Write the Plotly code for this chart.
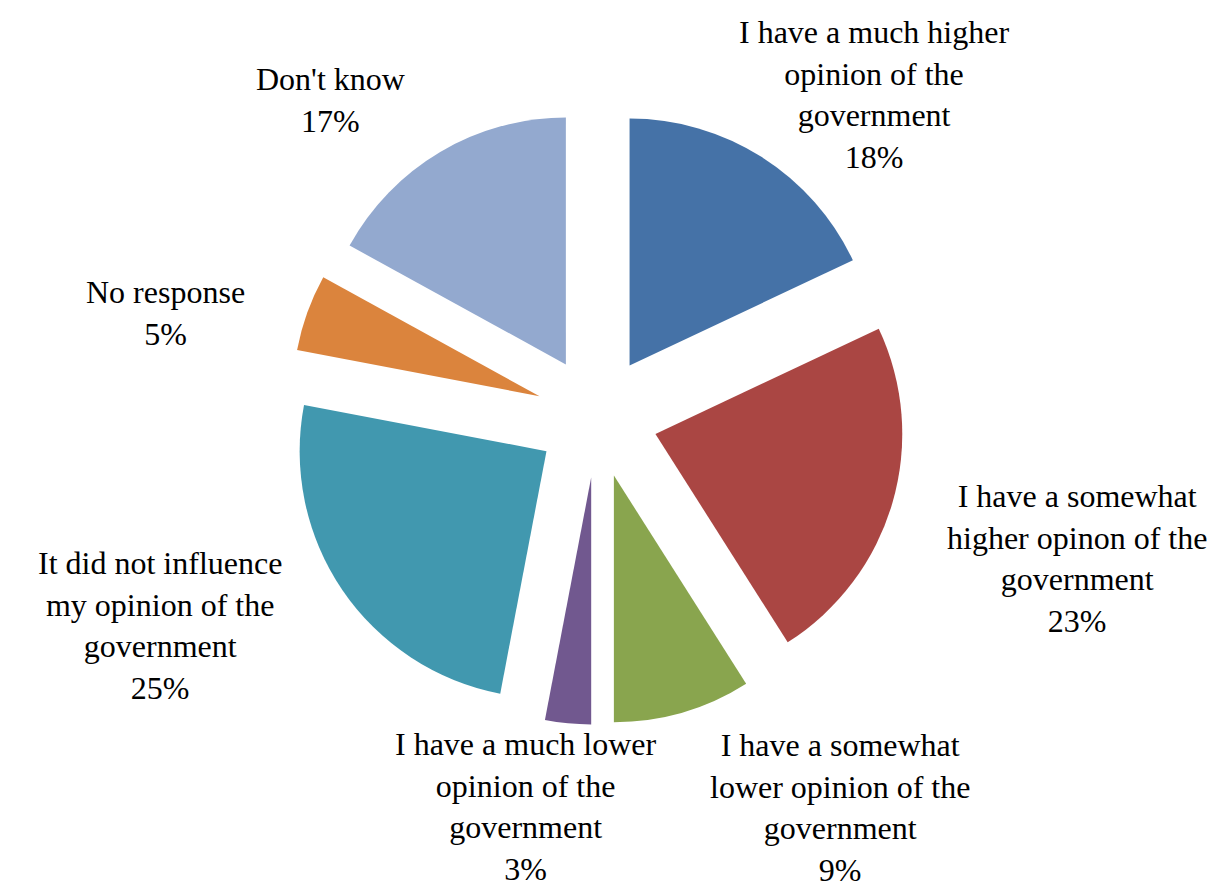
import plotly.graph_objects as go

categories = [
    "I have a much higher<br>opinion of the<br>government",
    "I have a somewhat<br>higher opinon of the<br>government",
    "I have a somewhat<br>lower opinion of the<br>government",
    "I have a much lower<br>opinion of the<br>government",
    "It did not influence<br>my opinion of the<br>government",
    "No response",
    "Don't know",
]
values = [18, 23, 9, 3, 25, 5, 17]
colors = ["#4572A7", "#AA4643", "#89A54E", "#71588F", "#4198AF", "#DB843D", "#93A9CF"]

# label box centres in pixels (layout only)
label_pos = [(866, 86), (1069, 550), (832, 799), (518, 798), (152, 617), (157, 305), (322, 92)]

W, H = 1232, 887

fig = go.Figure()
fig.add_trace(go.Pie(
    labels=categories,
    values=values,
    sort=False,
    direction="clockwise",
    rotation=0,
    pull=0.247,
    marker=dict(colors=colors, line=dict(width=0)),
    textinfo="none",
    domain=dict(x=[0.228, 0.728], y=[0.192, 0.886]),
    showlegend=False,
    hoverinfo="label+percent",
))

total = sum(values)
for lab, v, (px, py) in zip(categories, values, label_pos):
    fig.add_annotation(
        x=px / W, y=1 - py / H, xref="paper", yref="paper",
        text=f"{lab}<br>{round(100 * v / total)}%",
        showarrow=False, xanchor="center", yanchor="middle", align="center",
        borderpad=0,
        font=dict(family="Liberation Serif", size=32, color="black"),
    )

fig.update_layout(
    width=W, height=H,
    margin=dict(l=0, r=0, t=0, b=0),
    paper_bgcolor="white",
    plot_bgcolor="white",
)

fig.write_html("out.html")
